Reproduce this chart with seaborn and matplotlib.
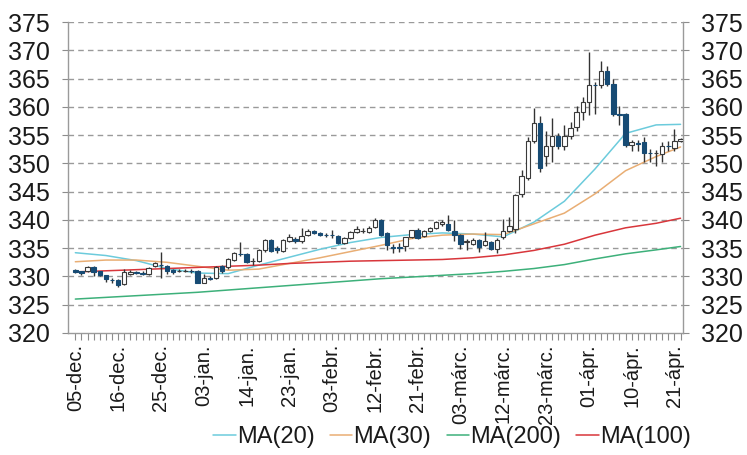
import numpy as np
import pandas as pd
import matplotlib
matplotlib.use("Agg")
import matplotlib.pyplot as plt
from matplotlib.lines import Line2D
import seaborn as sns

# ---------------- data ----------------
tick_labels = ["05-dec.", "16-dec.", "25-dec.", "03-jan.", "14-jan.", "23-jan.",
               "03-febr.", "12-febr.", "21-febr.", "03-márc.", "12-márc.", "23-márc.",
               "01-ápr.", "10-ápr.", "21-ápr."]

opens = [331.2, 330.9, 330.9, 331.7, 330.9, 330.2, 329.4, 329.3, 328.6, 330.5,
         330.7, 330.55, 330.5, 331.8, 332.1, 331.8, 331.2, 330.9, 331.0, 331.05,
         331.0, 328.9, 329.7, 329.8, 331.8, 331.6, 332.9, 334.0, 333.9, 332.8,
         332.8, 334.6, 336.4, 335.1, 334.5, 336.3, 336.7, 336.2, 337.3, 338.1,
         337.7, 337.4, 337.4, 337.1, 335.9, 336.8, 337.9, 338.1, 337.8, 338.8,
         340.0, 337.6, 335.2, 335.15, 335.3, 336.9, 338.3, 337.2, 338.1, 338.6,
         339.2, 339.3, 338.0, 337.3, 336.1, 335.7, 336.4, 335.6, 336.1, 334.8,
         336.9, 338.1, 338.4, 344.5, 347.5, 354.0, 357.2, 351.3, 353.1, 354.8,
         353.0, 354.8, 356.4, 359.1, 360.8, 363.9, 363.8, 366.4, 364.1, 358.7,
         358.8, 353.3, 353.55, 353.7, 351.85, 351.8, 351.7, 353.05, 352.8, 354.0]
highs = [331.4, 331.0, 331.8, 331.9, 331.0, 330.3, 329.7, 329.5, 331.3, 331.1,
         331.0, 330.9, 331.7, 332.5, 334.4, 332.0, 331.3, 331.3, 331.3, 331.4,
         331.1, 330.5, 330.0, 331.8, 332.1, 333.3, 334.4, 336.1, 334.1, 333.3,
         334.8, 336.6, 336.6, 335.4, 336.6, 337.5, 336.9, 338.6, 338.4, 338.3,
         337.9, 337.7, 338.2, 337.3, 336.9, 338.1, 338.9, 338.5, 339.0, 340.4,
         340.2, 337.8, 335.8, 336.0, 337.0, 338.3, 338.5, 338.3, 338.8, 339.8,
         339.9, 340.9, 340.0, 337.5, 336.7, 336.8, 336.6, 337.8, 336.3, 336.8,
         340.2, 340.5, 344.6, 348.8, 354.6, 359.8, 358.3, 355.8, 358.1, 355.3,
         356.7, 357.3, 360.2, 361.8, 369.7, 364.4, 368.1, 367.3, 365.0, 360.2,
         358.9, 354.2, 354.2, 354.6, 352.6, 352.3, 353.7, 354.0, 356.1, 354.5]
lows = [330.6, 330.2, 330.8, 330.0, 330.1, 329.1, 328.9, 328.1, 328.5, 330.2,
        330.4, 330.3, 330.3, 331.6, 329.7, 330.5, 330.4, 330.7, 330.7, 330.6,
        328.8, 328.8, 329.3, 329.6, 330.6, 331.4, 332.8, 333.6, 332.4, 332.0,
        332.6, 334.4, 334.3, 334.2, 334.4, 336.1, 336.0, 336.0, 337.1, 337.5,
        337.1, 336.9, 336.8, 335.8, 335.7, 336.6, 337.7, 337.7, 337.6, 338.6,
        337.2, 334.7, 334.2, 334.4, 334.5, 336.8, 336.6, 337.0, 337.9, 338.4,
        339.0, 338.0, 336.3, 334.8, 334.6, 335.5, 334.3, 335.3, 334.6, 334.1,
        336.6, 337.9, 337.6, 344.1, 347.0, 353.6, 348.5, 349.5, 350.2, 352.6,
        352.4, 354.3, 355.8, 357.6, 358.5, 358.8, 363.3, 363.7, 358.4, 356.7,
        352.9, 352.2, 352.2, 350.2, 350.2, 349.6, 350.2, 352.1, 352.1, 353.8]
closes = [330.8, 330.6, 331.7, 330.8, 330.3, 329.5, 329.3, 328.5, 330.8, 330.8,
          330.6, 330.5, 331.5, 332.3, 332.0, 330.9, 330.7, 331.0, 331.0, 331.0,
          328.9, 329.8, 329.6, 331.6, 330.9, 333.0, 334.2, 333.9, 332.5, 332.8,
          334.6, 336.4, 334.5, 334.6, 336.4, 336.9, 336.2, 337.2, 338.0, 337.6,
          337.3, 337.35, 337.35, 335.9, 336.8, 337.9, 338.4, 338.1, 338.6, 339.9,
          337.4, 335.6, 335.1, 335.1, 336.9, 338.2, 336.8, 338.1, 338.6, 339.6,
          339.7, 338.3, 337.4, 335.8, 336.2, 336.4, 335.2, 336.2, 334.8, 336.4,
          338.1, 339.0, 344.4, 347.7, 354.0, 357.2, 349.1, 353.0, 354.8, 353.0,
          354.8, 356.2, 359.0, 360.8, 363.8, 363.8, 366.4, 364.1, 358.8, 358.6,
          353.3, 353.7, 353.5, 351.8, 351.8, 351.85, 353.0, 353.0, 354.0, 354.3]

ma_idx = [0, 5, 10, 15, 20, 25, 30, 35, 40, 45, 50, 55, 60, 65, 70, 75, 80, 85, 90, 95, 99]
ma20 = [334.2, 333.7, 332.8, 331.4, 330.6, 330.5, 332.0, 333.4, 334.8, 336.0, 336.9,
        337.4, 337.7, 337.5, 337.0, 339.6, 343.3, 349.0, 355.3, 356.8, 356.9]
ma30 = [332.6, 332.9, 332.9, 332.5, 331.8, 331.1, 331.3, 332.3, 333.3, 334.4, 335.5,
        336.7, 337.3, 337.5, 337.4, 339.3, 341.2, 344.6, 348.7, 351.2, 352.9]
ma200 = [326.0, 326.3, 326.6, 326.9, 327.2, 327.6, 328.0, 328.4, 328.8, 329.2, 329.6,
         329.9, 330.2, 330.5, 330.9, 331.4, 332.1, 333.1, 334.0, 334.7, 335.3]
ma100 = [330.8, 331.0, 331.2, 331.4, 331.6, 331.8, 332.0, 332.3, 332.5, 332.7, 332.8,
         332.9, 333.0, 333.3, 333.8, 334.6, 335.7, 337.3, 338.6, 339.4, 340.3]

series_names = ["MA(20)", "MA(30)", "MA(200)", "MA(100)"]
series_colors = ["#6CCBDC", "#E9AE74", "#3DB07A", "#D8363B"]

# ---------------- figure ----------------
sns.set_theme(style="white")
plt.rcParams["font.family"] = ["Liberation Sans", "DejaVu Sans"]

W, H = 747, 455
fig = plt.figure(figsize=(W / 100, H / 100), dpi=100)
ax = fig.add_axes([68 / W, 1 - 333 / H, (683 - 68) / W, (333 - 22) / H])

# moving averages via seaborn
ma_df = pd.DataFrame({
    "idx": ma_idx * 4,
    "value": ma20 + ma30 + ma200 + ma100,
    "series": sum([[n] * len(ma_idx) for n in series_names], []),
})
sns.lineplot(data=ma_df, x="idx", y="value", hue="series", hue_order=series_names,
             palette=series_colors, linewidth=1.1, ax=ax, legend=False, zorder=2)

# candlesticks
x = np.arange(len(opens))
o = np.array(opens); c = np.array(closes)
hi = np.array(highs); lo = np.array(lows)
up = c >= o
ax.vlines(x, lo, hi, color="#333333", linewidth=1.0, zorder=3)
bottom = np.minimum(o, c)
height = np.abs(c - o)
ax.bar(x[up], height[up], bottom=bottom[up], width=0.72, color="white",
       edgecolor="#3a3a3a", linewidth=0.8, zorder=4)
ax.bar(x[~up], height[~up], bottom=bottom[~up], width=0.72, color="#174B74",
       edgecolor="#174B74", linewidth=0.8, zorder=4)

# axes styling
ax.set_xlim(-1.2, 99.4)
ax.set_ylim(320, 375)
yt = np.arange(320, 376, 5)
ax.set_yticks(yt)
ax.set_yticklabels([str(v) for v in yt])
for v in yt[1:]:
    ax.axhline(v, color="#9a9a9a", linestyle=(0, (4, 3)), linewidth=1.0, zorder=1)

ax.set_xticks(np.arange(0, 7 * len(tick_labels), 7))
ax.set_xticklabels(tick_labels, rotation=90, fontsize=14.5, color="#1a1a1a")
ax.set_xticks(x, minor=True)
ax.tick_params(axis="x", which="both", direction="out", length=5, width=0.8,
               color="#8c8c8c", bottom=True, pad=3)
ax.tick_params(axis="y", which="major", labelleft=True, labelright=True,
               left=True, right=True, length=4, width=0.8, color="#8c8c8c",
               labelsize=18, labelcolor="#1a1a1a", pad=9)
ax.set_xlabel("")
ax.set_ylabel("")

for side in ["left", "right", "bottom"]:
    ax.spines[side].set_visible(True)
    ax.spines[side].set_color("#9a9a9a")
    ax.spines[side].set_linewidth(1.0)
ax.spines["top"].set_visible(False)

handles = [Line2D([0], [0], color=col, linewidth=1.1) for col in series_colors]
fig.legend(handles, series_names, loc="center", bbox_to_anchor=(452 / W, 1 - 437 / H),
           ncol=4, frameon=False, fontsize=17, handlelength=0.95,
           handletextpad=0.05, columnspacing=0.65, labelcolor="#1a1a1a")

fig.savefig("out.png", dpi=100)
